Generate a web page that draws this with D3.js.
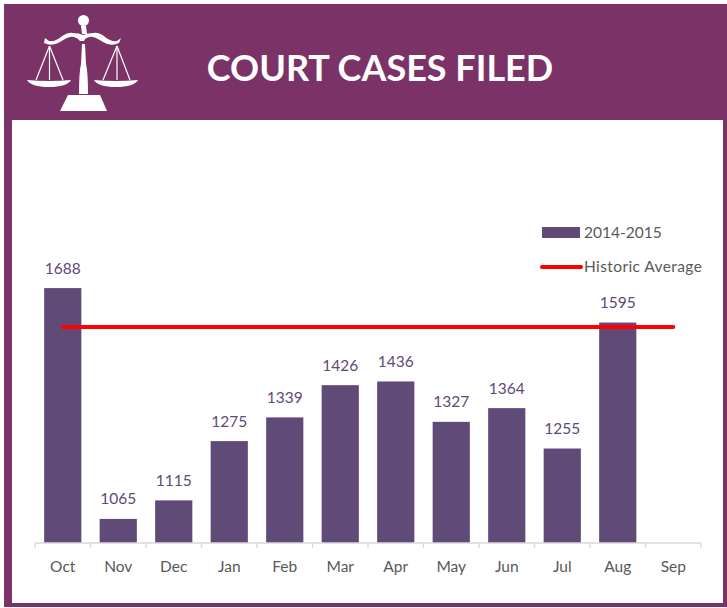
<!DOCTYPE html>
<html><head><meta charset="utf-8">
<script src="https://cdnjs.cloudflare.com/ajax/libs/d3/7.8.5/d3.min.js"></script>
<style>html,body{margin:0;padding:0;background:#fff}svg{display:block}text{font-family:Lato,"Open Sans",sans-serif}</style>
</head><body><div id="chart"></div>
<script>
const months = ["Oct","Nov","Dec","Jan","Feb","Mar","Apr","May","Jun","Jul","Aug","Sep"];
const cases = [1688,1065,1115,1275,1339,1426,1436,1327,1364,1255,1595,null];
const historic = [1583,1583,1583,1583,1583,1583,1583,1583,1583,1583,1583,1583];
const title = "COURT CASES FILED";
const legendLabels = ["2014-2015","Historic Average"];

const W=727,H=608,purple="#7b3266",barC="#5f4a78",red="#ff0000",grey="#595959";
const svg=d3.select("#chart").append("svg").attr("width",W).attr("height",H);
svg.append("rect").attr("x",4).attr("y",4).attr("width",719).attr("height",603).attr("fill",purple);
svg.append("rect").attr("x",12).attr("y",120).attr("width",711).attr("height",483).attr("fill","#fff");
svg.append("rect").attr("x",723).attr("y",4).attr("width",4).attr("height",603).attr("fill",purple);

svg.append("text").attr("x",380).attr("y",81).attr("text-anchor","middle")
  .attr("font-size",36).attr("font-weight",700).attr("fill","#fff").text(title);

// scales icon
const icon=svg.append("g").attr("fill","#fff").attr("stroke","none");
icon.append("circle").attr("cx",83.5).attr("cy",20.5).attr("r",5.5);
icon.append("path").attr("d","M81 26h5l1 8h-5z");
icon.append("path").attr("d","M45 38l4 3q6 1 12-4q7-5 12-4q6 0 10 2q5-2 10-2q6-1 12 4q6 5 12 4l4-3l-2 5q-8 4-16-1q-9-6-14-5q-4 1-5 4h-4q-2-3-6-4q-5-1-14 5q-8 5-16 1z");
icon.append("path").attr("d","M82 44h3l1 20q2 8 2 30h-9q0-22 2-30z");
icon.append("path").attr("d","M68 95h32l7 16H60z");
icon.append("path").attr("d","M27 80q22 2 44 0q-4 7-22 7q-18 0-22-7z");
icon.append("path").attr("d","M94 80q22 2 44 0q-4 7-22 7q-18 0-22-7z");
const st=icon.append("g").attr("stroke","#fff").attr("stroke-width",1.2).attr("fill","none");
[[49.5,46,36,80],[49.5,46,63,80],[49.5,46,49.5,80],[117,46,103,80],[117,46,130,80],[117,46,117,80]]
  .forEach(d=>st.append("line").attr("x1",d[0]).attr("y1",d[1]).attr("x2",d[2]).attr("y2",d[3]));

const x=d3.scaleBand().domain(months).range([35,701]).paddingInner(0.33).paddingOuter(0.165);
const y=d3.scaleLinear().domain([1000,2000]).range([543,172.5]);
const cx=m=>x(m)+x.bandwidth()/2;

const valid=months.map((m,i)=>({m,v:cases[i]})).filter(d=>d.v!=null);
svg.selectAll("rect.bar").data(valid).join("rect").attr("class","bar")
  .attr("x",d=>x(d.m)).attr("y",d=>y(d.v)).attr("width",x.bandwidth())
  .attr("height",d=>y(1000)-y(d.v)).attr("fill",barC);
svg.selectAll("text.val").data(valid).join("text").attr("class","val")
  .attr("x",d=>cx(d.m)).attr("y",d=>y(d.v)-14.5).attr("text-anchor","middle")
  .attr("font-size",15.5).attr("fill",barC).text(d=>d.v);

const axis=svg.append("g").attr("transform",`translate(0,${y(1000)})`);
const step=x.step();
axis.append("line").attr("x1",35).attr("x2",701).attr("stroke","#d9d9d9").attr("stroke-width",1.3);
d3.range(13).forEach(i=>axis.append("line").attr("x1",35+i*step).attr("x2",35+i*step).attr("y1",0).attr("y2",5).attr("stroke","#d9d9d9").attr("stroke-width",1.3));
svg.selectAll("text.m").data(months).join("text").attr("class","m")
  .attr("x",cx).attr("y",572).attr("text-anchor","middle").attr("font-size",15.5).attr("fill",grey).text(d=>d);

const line=d3.line().x((d,i)=>cx(months[i])).y(d=>y(d));
svg.append("path").attr("d",line(historic)).attr("fill","none").attr("stroke",red).attr("stroke-width",4).attr("stroke-linecap","round");

svg.append("rect").attr("x",542).attr("y",227).attr("width",38).attr("height",11).attr("fill",barC);
svg.append("line").attr("x1",542).attr("x2",581).attr("y1",267).attr("y2",267).attr("stroke",red).attr("stroke-width",4).attr("stroke-linecap","round");
svg.append("text").attr("x",584).attr("y",238).attr("font-size",15.5).attr("fill",grey).text(legendLabels[0]);
svg.append("text").attr("x",584).attr("y",272).attr("font-size",15.5).attr("letter-spacing",0.4).attr("fill",grey).text(legendLabels[1]);
</script></body></html>
